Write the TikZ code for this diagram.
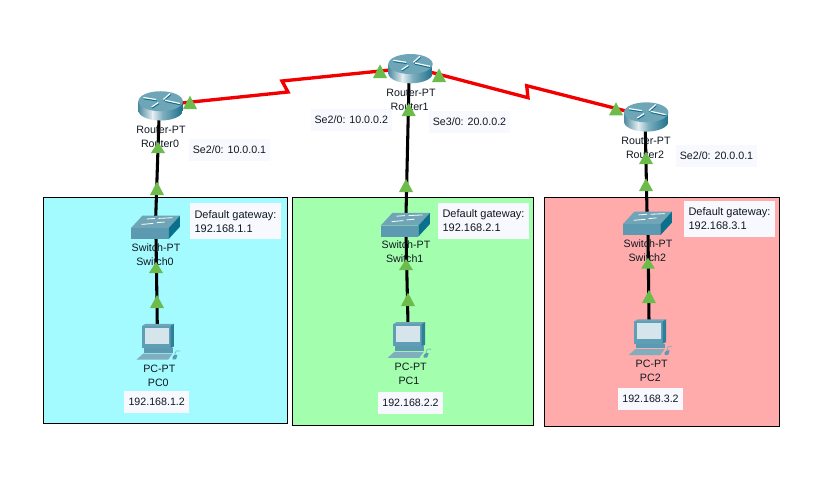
\documentclass[tikz,border=0pt]{standalone}
\usepackage{fontspec}
\setmainfont{Liberation Sans}
\usetikzlibrary{calc}
\definecolor{zoneA}{HTML}{A3FAFF}
\definecolor{zoneB}{HTML}{A3FFAD}
\definecolor{zoneC}{HTML}{FFABAB}
\definecolor{notebg}{HTML}{F8F9FF}
\definecolor{tricol}{HTML}{6CBB4B}
\definecolor{rtop}{HTML}{6EA5B7}
\definecolor{rleft}{HTML}{4E8A9F}
\definecolor{rlight}{HTML}{E4EEF1}
\definecolor{rmid}{HTML}{7FB0BF}
\definecolor{rright}{HTML}{1F6F8C}
\definecolor{swtop}{HTML}{6FA5B6}
\definecolor{swfront}{HTML}{5B9AB0}
\definecolor{swside}{HTML}{0A708E}
\definecolor{pcface}{HTML}{5F9FB5}
\definecolor{pcside}{HTML}{2F7F9A}
\definecolor{pcscreen}{HTML}{D6E4EC}
\definecolor{pcbase}{HTML}{7FAEBE}
\definecolor{lbl}{HTML}{101820}
\tikzset{
  zone/.style={draw=black,line width=0.75pt},
  dev/.style={inner sep=0pt,outer sep=0pt},
  rtrdev/.style={dev,minimum width=33.3pt,minimum height=22pt},
  swdev/.style={dev,minimum width=37pt,minimum height=17.7pt},
  pcdev/.style={dev,minimum width=33pt,minimum height=27.2pt},
  eth/.style={black,line width=2.3pt},
  ser/.style={red!95!black,line width=2.5pt,line join=miter},
  lab/.style={anchor=base,inner sep=0pt,text=lbl,font=\fontsize{8}{10}\selectfont},
  note/.style={fill=notebg,inner sep=0pt,text=lbl,minimum width=60.75pt,minimum height=16.3pt,font=\fontsize{8}{10}\selectfont},
  ipnote/.style={note,minimum width=49pt},
  gate/.style={fill=notebg,inner sep=0pt,text=lbl,minimum width=68.25pt,minimum height=26.8pt,align=left,font=\fontsize{8.25}{10.5}\selectfont},
}
\newcommand{\tri}[3]{\fill[tricol] (#1,#2) -- (#1+7,#3) -- (#1-7,#3) -- cycle;}
\newcommand{\routericon}[1]{%
  \begin{scope}[shift={(#1.north west)}]
    \begin{scope}
      \clip (0,10) -- (0,19.3) arc[start angle=180,end angle=0,x radius=22.2,y radius=10] -- (44.4,10) -- cycle;
      \shade[left color=rleft,right color=rlight] (0,9) rectangle (14.2,30);
      \shade[left color=rlight,right color=rmid] (14,9) rectangle (24.2,30);
      \shade[left color=rmid,right color=rright] (24,9) rectangle (44.4,30);
    \end{scope}
    \fill[rtop] (22.2,10) ellipse [x radius=22.2,y radius=10];
    \begin{scope}[line width=1.3pt,swside,shift={(0.3,0.9)}]
      \draw (5,6.3)--(18,8.3) (13.3,15.7)--(20,11.3) (25,8.3)--(31.7,2.3) (26.7,9)--(41.7,12.3);
    \end{scope}
    \draw[white,line width=0.9pt] (5,6.3)--(18,8.3) (13.3,15.7)--(20,11.3) (25,8.3)--(31.7,2.3) (26.7,9)--(41.7,12.3);
  \end{scope}}
\newcommand{\switchicon}[1]{%
  \begin{scope}[shift={(#1.north west)}]
    \fill[swtop] (0,12.7) -- (11.7,0) -- (49.3,0) -- (37.7,12.7) -- cycle;
    \fill[swfront] (0,12.7) rectangle (37.7,23.6);
    \fill[swside] (37.7,12.7) -- (49.3,0) -- (49.3,11) -- (37.7,23.6) -- cycle;
    \draw[white,line width=0.6pt] (16,3.3)--(24.3,2.7) (28,2.7)--(42,2) (11,8.7)--(22.7,7.7) (26,7)--(34,6.3);
  \end{scope}}
\newcommand{\pcicon}[1]{%
  \begin{scope}[shift={(#1.north west)}]
    \fill[pcface] (5.7,2) rectangle (34,24.3);
    \fill[swtop] (5.7,2) -- (9,0) -- (37.3,0) -- (34,2) -- cycle;
    \fill[pcside] (34,2) -- (37.3,0) -- (37.3,22.7) -- (34,24.3) -- cycle;
    \fill[pcscreen] (8.3,4) rectangle (32.3,20);
    \fill[swfront] (7,24.3) rectangle (36.7,28.7);
    \fill[pcbase] (0,35.7) -- (6.7,29.7) -- (36,29.7) -- (31.7,35.7) -- cycle;
    \fill[swfront] (36,33) -- (38,31) -- (41,31) -- (39.5,35.5) -- (36,35.5) -- cycle;
    \draw[pcbase,line width=0.5pt] (38.5,31) .. controls (38,27) and (41,26) .. (43.5,27.5);
  \end{scope}}
\begin{document}
\begin{tikzpicture}[x=0.75pt,y=-0.75pt]
\useasboundingbox (0,0) rectangle (824,489);
\fill[white] (0,0) rectangle (824,489);
% zones
\filldraw[zone,fill=zoneA] (43.5,197.5) rectangle (287.5,423.5);
\filldraw[zone,fill=zoneB] (292.5,197.5) rectangle (533.5,425.5);
\filldraw[zone,fill=zoneC] (544.5,197.5) rectangle (779.5,426.5);
% devices
\node[rtrdev] (R0) at (160.6,105.9) {};
\node[rtrdev] (R1) at (410.5,68.7) {};
\node[rtrdev] (R2) at (646.2,117) {};
\node[swdev] (SW0) at (155.35,227.5) {};
\node[swdev] (SW1) at (405.35,224.7) {};
\node[swdev] (SW2) at (647.35,223.4) {};
\node[pcdev] (PC0) at (158.5,342) {};
\node[pcdev] (PC1) at (409.7,340.2) {};
\node[pcdev] (PC2) at (650.7,337.5) {};
% connectors
\draw[eth] ($(R0.south)+(-1.6,-2)$) -- ($(SW0.north)+(0.35,2)$);
\draw[eth] ($(SW0.south)+(0.65,-2)$) -- ($(PC0.north)+(-1.2,2)$);
\draw[eth] ($(R1.south)+(-1.5,-2)$) -- ($(SW1.north)+(0.65,2)$);
\draw[eth] ($(SW1.south)+(0.65,-2)$) -- ($(PC1.north)+(-1.7,2)$);
\draw[eth] ($(R2.south)+(-0.9,-2)$) -- ($(SW2.north)+(-0.3,2)$);
\draw[eth] ($(SW2.south)+(0.65,-2)$) -- ($(PC2.north)+(-1.7,2)$);
\draw[ser] ($(R0.east)+(-2,-2.8)$) -- (288,92) -- (282,81) -- ($(R1.west)+(2,1.3)$);
\draw[ser] ($(R1.east)+(-2,3.5)$) -- (528,97.7) -- (526.7,85.7) -- ($(R2.west)+(2,-6)$);
% icons
\routericon{R0}\routericon{R1}\routericon{R2}
\switchicon{SW0}\switchicon{SW1}\switchicon{SW2}
\pcicon{PC0}\pcicon{PC1}\pcicon{PC2}
% device labels
\node[lab] (lr0a) at (161,133) {Router-PT};
\node[lab] (lr0b) at (160,147.3) {Router0};
\node[lab] (lr1a) at (411,96.3) {Router-PT};
\node[lab] (lr1b) at (409.7,110.3) {Router1};
\node[lab] (lr2a) at (646,144.3) {Router-PT};
\node[lab] (lr2b) at (645,158.3) {Router2};
\node[lab] (ls0a) at (156,251.3) {Switch-PT};
\node[lab] (ls0b) at (155,265.3) {Switch0};
\node[lab] (ls1a) at (406,248.3) {Switch-PT};
\node[lab] (ls1b) at (404.7,262.3) {Switch1};
\node[lab] (ls2a) at (648,247.3) {Switch-PT};
\node[lab] (ls2b) at (647.3,261.3) {Switch2};
\node[lab] (lp0a) at (159.3,372) {PC-PT};
\node[lab] (lp0b) at (158.3,386) {PC0};
\node[lab] (lp1a) at (410.7,370) {PC-PT};
\node[lab] (lp1b) at (409,384) {PC1};
\node[lab] (lp2a) at (651.7,367.3) {PC-PT};
\node[lab] (lp2b) at (650.3,381) {PC2};
% port triangles
\tri{190}{95.7}{109}\tri{158}{141.7}{153}\tri{157}{181.7}{195}
\tri{156}{261.7}{273}\tri{157}{295}{308}
\tri{380}{64.3}{78}\tri{439}{68.3}{82}\tri{408.7}{103}{116}\tri{406}{179}{192}
\tri{406}{259}{270}\tri{408}{292.7}{306}
\tri{616}{102.3}{115.3}\tri{646}{151.7}{164}\tri{646}{178.3}{191}
\tri{648}{257.7}{268.7}\tri{649}{290}{303}
% notes
\node[note] (n0) at (229.5,149.9) {Se2/0: 10.0.0.1};
\node[note] (n1) at (351.3,119.9) {Se2/0: 10.0.0.2};
\node[note] (n2) at (469.5,121.9) {Se3/0: 20.0.0.2};
\node[note] (n3) at (716.5,155.9) {Se2/0: 20.0.0.1};
\node[gate] (g0) at (235.5,221.2) {Default gateway:\\192.168.1.1};
\node[gate] (g1) at (483.5,220.9) {Default gateway:\\192.168.2.1};
\node[gate] (g2) at (729.5,218.9) {Default gateway:\\192.168.3.1};
\node[ipnote] (i0) at (156.7,401.9) {192.168.1.2};
\node[ipnote] (i1) at (410.5,403.2) {192.168.2.2};
\node[ipnote] (i2) at (650.5,398.9) {192.168.3.2};
\end{tikzpicture}
\end{document}
